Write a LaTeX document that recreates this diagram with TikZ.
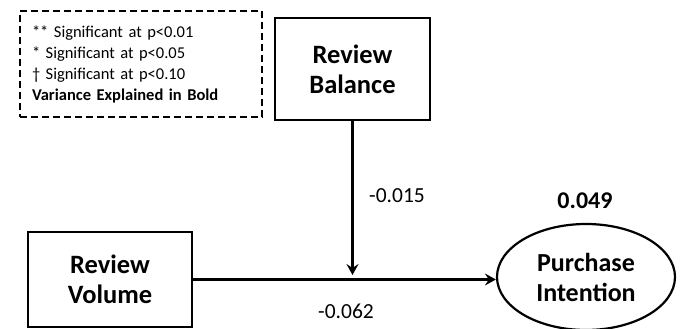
\documentclass[tikz,border=0pt]{standalone}
\usepackage{fontspec}
\setmainfont{Carlito}
\usetikzlibrary{arrows.meta,shapes.geometric}
\begin{document}
\begin{tikzpicture}[x=1pt,y=-1pt,
    varbox/.style={draw,line width=2.6pt,inner sep=0pt,align=center,
      font=\fontsize{26.5}{30}\selectfont\bfseries},
    latent/.style={draw,ellipse,line width=2.2pt,inner sep=0pt,align=center,
      minimum width=178,minimum height=106,
      font=\fontsize{26}{30}\selectfont\bfseries},
    legendbox/.style={draw,dashed,dash pattern=on 7pt off 4pt,line width=2.2pt,
      minimum width=242,minimum height=106,text width=218,inner xsep=12pt,
      align=left,font=\fontsize{16.5}{21}\selectfont},
    coef/.style={anchor=base,inner sep=0pt,font=\fontsize{21.5}{24}\selectfont},
    path/.style={line width=2.6pt,-{Stealth[length=11pt,width=12pt,inset=4pt]}}]
  \useasboundingbox (0,0) rectangle (681,329);
  % legend
  \node[legendbox] (legend) at (141,64)
    {** Significant at p<0.01\\
     {*} Significant at p<0.05\\
     † Significant at p<0.10\\
     \textbf{Variance Explained in Bold}};
  % constructs
  \node[varbox,minimum width=155,minimum height=102] (balance) at (352.5,69) {Review\\Balance};
  \node[varbox,minimum width=164,minimum height=95] (volume) at (110,279.5) {Review\\Volume};
  \node[latent] (intention) at (586,277) {Purchase\\Intention};
  \coordinate (join) at (352.5,275);
  % paths
  \draw[path] (volume.east) -- (volume.east -| intention.west);
  \draw[path] (balance.south) -- (join);
  % coefficients
  \node[coef] (bal) at (397,202) {-0.015};
  \node[coef] (vol) at (346,318) {-0.062};
  \node[coef,font=\fontsize{24}{26}\selectfont\bfseries] (rsq) at (585,208) {0.049};
\end{tikzpicture}
\end{document}
